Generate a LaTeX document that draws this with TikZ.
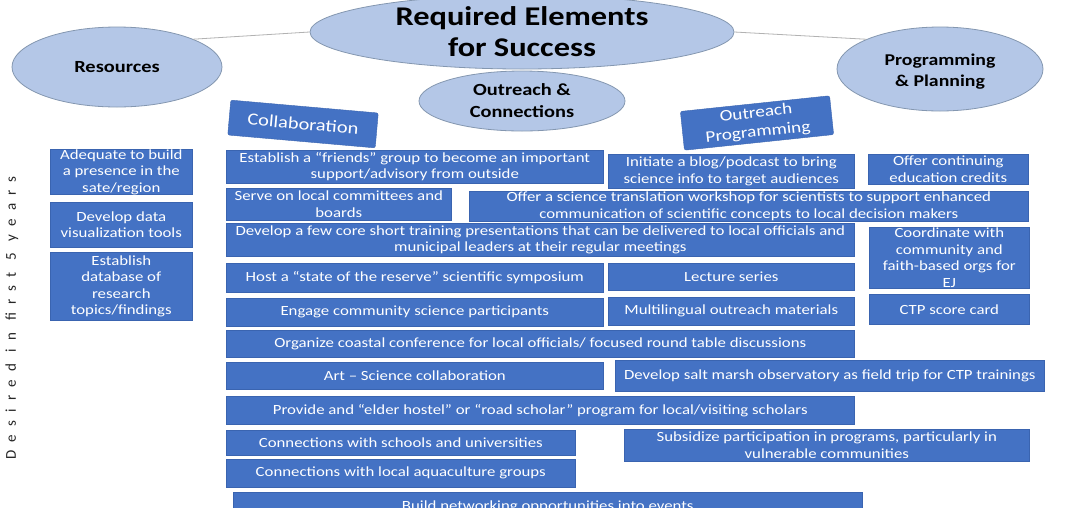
\documentclass[tikz,border=0pt]{standalone}
\usepackage{fontspec}
\setmainfont{Carlito}[FakeStretch=1.2]
\newfontfamily\vfont{Carlito}[LetterSpace=55]
\usetikzlibrary{shapes.geometric}
\definecolor{boxblue}{HTML}{4472C4}
\definecolor{boxline}{HTML}{3A64B0}
\definecolor{ellfill}{HTML}{B4C7E7}
\definecolor{ellline}{HTML}{8497B0}
\tikzset{
 item/.style={draw=boxline, line width=0.6pt, fill=boxblue, text=white, align=center, inner sep=0pt, anchor=north west, font=\fontsize{14}{16.5}\selectfont},
 oval/.style={ellipse, draw=ellline, line width=0.8pt, fill=ellfill, align=center, inner sep=0pt},
 tag/.style={draw=boxline, fill=boxblue, text=white, align=center, rounded corners=2pt, inner sep=0pt, font=\fontsize{17}{19}\selectfont},
 link/.style={draw=gray!60, line width=0.8pt}
}
\newcommand\itembox[6]{\node[item, minimum width=#4pt, minimum height=#5pt] (#1) at (#2,#3) {#6};}
\begin{document}
\begin{tikzpicture}[x=1pt,y=-1pt]
\useasboundingbox (0,0) rectangle (1086,507);
\clip (0,0) rectangle (1086,507);
\fill[white] (0,0) rectangle (1086,507);
% ovals
\node[oval, minimum width=424pt, minimum height=74pt, font=\bfseries\fontsize{27}{31}\selectfont] (req) at (522,32) {Required Elements\\for Success};
\node[oval, minimum width=210pt, minimum height=80pt, font=\bfseries\fontsize{17}{20}\selectfont] (res) at (117,67) {Resources};
\node[oval, minimum width=206pt, minimum height=60pt, font=\bfseries\fontsize{17}{22}\selectfont] (out) at (522,101) {Outreach \&\\Connections};
\node[oval, minimum width=206pt, minimum height=84pt, font=\bfseries\fontsize{16.5}{21}\selectfont] (prog) at (940,69) {\rule{0pt}{16pt}Programming\\\& Planning};
\draw[link] (res.20) -- (req.west);
\draw[link] (req.east) -- (prog.158);
% tilted tags
\node[tag, rotate=-5, minimum width=148pt, minimum height=35pt] (collab) at (303,124) {Collaboration};
\node[tag, rotate=6, minimum width=150pt, minimum height=39pt, font=\fontsize{16}{19}\selectfont] (outprog) at (757,123) {Outreach\\Programming};
% vertical label
\node[rotate=90, font=\vfont\fontsize{15}{17}\selectfont, text=black!85] (yrs) at (12,318) {Desired in first 5 years};
% left column
\itembox{left1}{50}{149}{142}{45}{Adequate to build\\a presence in the\\sate/region}
\itembox{left2}{50}{202}{142}{45}{Develop data\\visualization tools}
\itembox{left3}{50}{252}{142}{68}{Establish\\database of\\research\\topics/findings}
% main column
\itembox{friends}{226}{150}{377}{33}{Establish a “friends” group to become an important\\support/advisory from outside}
\itembox{serve}{226}{188}{225}{32}{Serve on local committees and\\boards}
\itembox{offer}{469}{191}{559}{30}{Offer a science translation workshop for scientists to support enhanced\\communication of scientific concepts to local decision makers}
\itembox{develop}{226}{223}{628}{33}{Develop a few core short training presentations that can be delivered to local officials and\\municipal leaders at their regular meetings}
\itembox{host}{226}{263}{377}{29}{Host a “state of the reserve” scientific symposium}
\itembox{engage}{226}{298}{377}{28}{Engage community science participants}
\itembox{organize}{226}{330}{628}{27}{Organize coastal conference for local officials/ focused round table discussions}
\itembox{art}{226}{362}{377}{27}{Art – Science collaboration}
\itembox{salt}{615}{360}{429}{31}{Develop salt marsh observatory as field trip for CTP trainings}
\itembox{provide}{226}{396}{628}{28}{Provide and “elder hostel” or “road scholar” program for local/visiting scholars}
\itembox{schools}{226}{430}{349}{25}{Connections with schools and universities}
\itembox{subsidize}{624}{429}{405}{32}{Subsidize participation in programs, particularly in\\vulnerable communities}
\itembox{aqua}{226}{459}{349}{28}{Connections with local aquaculture groups}
\itembox{build}{233}{492}{629}{30}{Build networking opportunities into events}
% right columns
\itembox{blog}{608}{154}{246}{34}{Initiate a blog/podcast to bring\\science info to target audiences}
\itembox{credits}{868}{154}{160}{30}{Offer continuing\\education credits}
\itembox{coordinate}{869}{227}{160}{61}{Coordinate with\\community and\\faith-based orgs for\\EJ}
\itembox{lecture}{608}{263}{246}{27}{Lecture series}
\itembox{multi}{608}{297}{246}{28}{Multilingual outreach materials}
\itembox{ctp}{869}{294}{160}{30}{CTP score card}
\end{tikzpicture}
\end{document}
